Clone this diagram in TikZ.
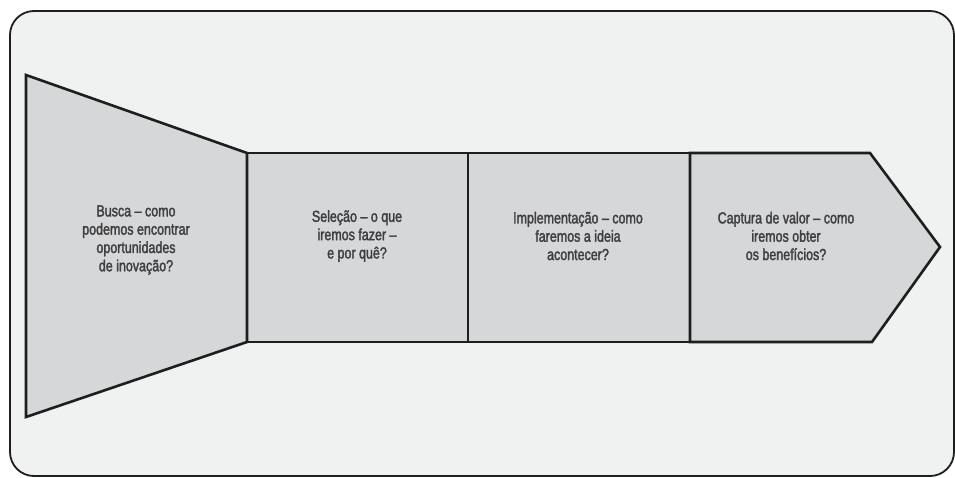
\documentclass[tikz,border=0pt]{standalone}
\usepackage{fontspec}
\setmainfont{Liberation Sans}[FakeStretch=0.78,FakeBold=2]
\definecolor{bgc}{HTML}{F0F1F1}
\definecolor{fillc}{HTML}{D6D7D9}
\definecolor{linec}{HTML}{1E1E1E}
\definecolor{textc}{HTML}{3F3F3F}
\begin{document}
\begin{tikzpicture}[x=1pt,y=-1pt,
  shapefill/.style={fill=fillc},
  shapeline/.style={draw=linec,line width=2.6pt,line join=miter},
  lbl/.style={align=center,text=textc,font=\fontsize{16}{18.3}\selectfont,inner sep=0pt}]
\useasboundingbox (0,0) rectangle (955,477);
\fill[white] (0,0) rectangle (955,477);
\draw[draw=linec,line width=1.8pt,fill=bgc,rounded corners=24pt] (10,11) rectangle (954,476);
% fills
\fill[shapefill] (26,75) -- (247,153) -- (247,342) -- (26,417) -- cycle;
\fill[shapefill] (247,153) rectangle (690,342);
\fill[shapefill] (690,153) -- (870,153) -- (940,247) -- (872,342) -- (690,342) -- cycle;
% outlines
\draw[shapeline] (26,75) -- (247,153) -- (247,342) -- (26,417) -- cycle;
\draw[shapeline] (247,153) rectangle (468,342);
\draw[shapeline] (468,153) rectangle (690,342);
\draw[shapeline] (690,153) -- (870,153) -- (940,247) -- (872,342) -- (690,342) -- cycle;
\node[lbl] (busca) at (136,240) {Busca -- como\\podemos encontrar\\oportunidades\\de inovação?};
\node[lbl] (selecao) at (357,236) {Seleção -- o que\\iremos fazer --\\e por quê?};
\node[lbl] (impl) at (578,236) {Implementação -- como\\faremos a ideia\\acontecer?};
\node[lbl] (captura) at (786,236) {Captura de valor -- como\\iremos obter\\os benefícios?};
\end{tikzpicture}
\end{document}
